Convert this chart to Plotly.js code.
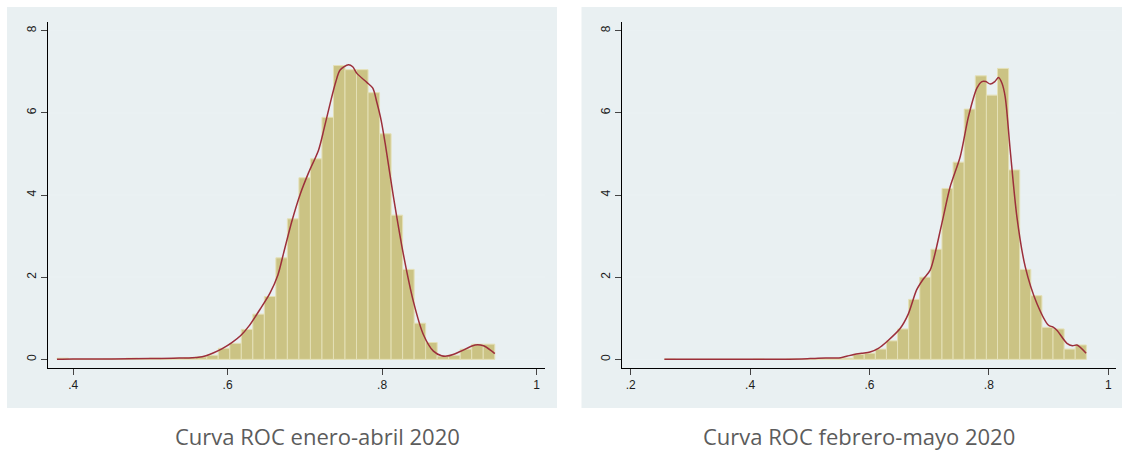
<!DOCTYPE html>
<html>
<head>
<meta charset="utf-8">
<script src="https://cdn.plot.ly/plotly-3.0.1.min.js"></script>
<style>
  html, body { margin: 0; padding: 0; background: #ffffff; }
  #chart { width: 1122px; height: 451px; }
</style>
</head>
<body>
<div id="chart"></div>
<script>
// ---------- DATA ----------
// Panel titles
const panelTitles = ["Curva ROC enero-abril 2020", "Curva ROC febrero-mayo 2020"];

// Left panel histogram (density), 38 bins
const leftBinStart = 0.379;
const leftBinWidth = 0.01492;
const leftDensity = [
  0.03, 0.00, 0.00, 0.00, 0.01, 0.00, 0.03, 0.01, 0.03, 0.02,
  0.03, 0.04, 0.06, 0.10, 0.27, 0.39, 0.73, 1.10, 1.53, 2.47,
  3.42, 4.42, 4.88, 5.89, 7.15, 7.05, 7.05, 6.49, 5.49, 3.51,
  2.19, 0.88, 0.41, 0.08, 0.10, 0.25, 0.37, 0.37
];
// Left panel kernel density curve
const leftKdeX = [0.379, 0.40, 0.45, 0.50, 0.53, 0.550, 0.562, 0.572, 0.582, 0.593, 0.605, 0.617, 0.628, 0.642, 0.655, 0.665, 0.6724, 0.683, 0.694, 0.705, 0.7177, 0.725, 0.7328, 0.740, 0.7457, 0.7565, 0.762, 0.7674, 0.7803, 0.788, 0.7933, 0.799, 0.804, 0.8148, 0.8277, 0.8407, 0.8536, 0.8665, 0.877, 0.8839, 0.892, 0.9011, 0.9205, 0.9313, 0.9421, 0.946];
const leftKdeY = [0.005, 0.01, 0.01, 0.02, 0.03, 0.035, 0.05, 0.09, 0.16, 0.26, 0.40, 0.58, 0.82, 1.22, 1.62, 2.05, 2.58, 3.35, 4.02, 4.55, 5.09, 5.62, 6.23, 6.75, 7.04, 7.17, 7.12, 6.96, 6.74, 6.60, 6.25, 5.80, 5.26, 3.95, 2.55, 1.40, 0.60, 0.20, 0.09, 0.08, 0.12, 0.19, 0.35, 0.33, 0.20, 0.14];

// Right panel histogram (density), 38 bins
const rightBinStart = 0.2565;
const rightBinWidth = 0.0186;
const rightDensity = [
  0.01, 0.00, 0.00, 0.00, 0.00, 0.00, 0.00, 0.00, 0.01, 0.00,
  0.00, 0.01, 0.00, 0.00, 0.02, 0.02, 0.03, 0.12, 0.15, 0.25,
  0.45, 0.74, 1.46, 2.00, 2.68, 4.16, 4.80, 6.09, 6.90, 6.43,
  7.08, 4.61, 2.19, 1.55, 0.78, 0.74, 0.25, 0.35
];
// Right panel kernel density curve
const rightKdeX = [0.2565, 0.35, 0.45, 0.4866, 0.514, 0.552, 0.563, 0.574, 0.587, 0.601, 0.615, 0.629, 0.6514, 0.665, 0.679, 0.690, 0.7017, 0.7213, 0.7352, 0.752, 0.7659, 0.780, 0.7884, 0.795, 0.8023, 0.810, 0.8162, 0.822, 0.8274, 0.8358, 0.847, 0.861, 0.8805, 0.900, 0.907, 0.914, 0.9308, 0.940, 0.9476, 0.963];
const rightKdeY = [0.005, 0.005, 0.005, 0.01, 0.03, 0.04, 0.08, 0.12, 0.15, 0.18, 0.27, 0.43, 0.75, 1.10, 1.69, 1.95, 2.17, 3.31, 4.20, 4.93, 5.91, 6.60, 6.76, 6.76, 6.70, 6.76, 6.86, 6.72, 6.39, 5.09, 3.47, 2.25, 1.36, 0.83, 0.79, 0.71, 0.39, 0.33, 0.35, 0.15];

// Tick labels
const yTickVals = [0, 2, 4, 6, 8];
const yTickText = ["0", "2", "4", "6", "8"];
const leftXTickVals = [0.4, 0.6, 0.8, 1.0];
const leftXTickText = [".4", ".6", ".8", "1"];
const rightXTickVals = [0.2, 0.4, 0.6, 0.8, 1.0];
const rightXTickText = [".2", ".4", ".6", ".8", "1"];

// ---------- BUILD ----------
function centers(start, width, n) {
  const c = [];
  for (let i = 0; i < n; i++) c.push(start + (i + 0.5) * width);
  return c;
}

const W = 1122, H = 451;
const px = v => v / W;
const py = v => 1 - v / H;

const barColor = '#cbc384';
const barLine = '#e4e0b6';
const kdeColor = '#9c2f3b';
const gridColor = '#eaf1f3';
const boxColor = '#e9f0f2';

const traces = [
  {
    type: 'bar', xaxis: 'x', yaxis: 'y',
    x: centers(leftBinStart, leftBinWidth, leftDensity.length),
    y: leftDensity, width: leftBinWidth,
    marker: { color: barColor, line: { color: barLine, width: 1 } },
    hoverinfo: 'skip'
  },
  {
    type: 'scatter', mode: 'lines', xaxis: 'x', yaxis: 'y',
    x: leftKdeX, y: leftKdeY,
    line: { color: kdeColor, width: 1.5, shape: 'spline', smoothing: 0.8 },
    hoverinfo: 'skip'
  },
  {
    type: 'bar', xaxis: 'x2', yaxis: 'y2',
    x: centers(rightBinStart, rightBinWidth, rightDensity.length),
    y: rightDensity, width: rightBinWidth,
    marker: { color: barColor, line: { color: barLine, width: 1 } },
    hoverinfo: 'skip'
  },
  {
    type: 'scatter', mode: 'lines', xaxis: 'x2', yaxis: 'y2',
    x: rightKdeX, y: rightKdeY,
    line: { color: kdeColor, width: 1.5, shape: 'spline', smoothing: 0.8 },
    hoverinfo: 'skip'
  }
];

const tickFont = { family: 'Liberation Sans, Arial, sans-serif', size: 12, color: '#1c1c1c' };

function xAxis(domain, range, vals, text, anchor) {
  return {
    domain: domain, range: range, anchor: anchor,
    tickmode: 'array', tickvals: vals, ticktext: text,
    ticks: 'outside', ticklen: 6, tickwidth: 1, tickcolor: '#444',
    showline: true, linecolor: '#000', linewidth: 1,
    showgrid: false, zeroline: false, tickfont: tickFont, fixedrange: true
  };
}
function yAxis(domain, anchor) {
  return {
    domain: domain, range: [-0.21, 8.21], anchor: anchor,
    tickmode: 'array', tickvals: yTickVals, ticktext: yTickText,
    ticks: 'outside', ticklen: 6, tickwidth: 1, tickcolor: '#444',
    tickangle: -90,
    showline: true, linecolor: '#000', linewidth: 1,
    showgrid: true, gridcolor: gridColor, gridwidth: 1.5,
    zeroline: false, tickfont: tickFont, fixedrange: true
  };
}

const yDom = [py(368), py(22)];

const layout = {
  width: W, height: H,
  margin: { l: 0, r: 0, t: 0, b: 0 },
  paper_bgcolor: '#ffffff',
  plot_bgcolor: '#ffffff',
  showlegend: false,
  bargap: 0,
  xaxis: xAxis([px(47.7), px(545)], [0.367, 1.011], leftXTickVals, leftXTickText, 'y'),
  yaxis: yAxis(yDom, 'x'),
  xaxis2: xAxis([px(621.7), px(1116)], [0.185, 1.013], rightXTickVals, rightXTickText, 'y2'),
  yaxis2: yAxis(yDom, 'x2'),
  shapes: [
    { type: 'rect', xref: 'paper', yref: 'paper', layer: 'below',
      x0: px(7), x1: px(557), y0: py(408), y1: py(7),
      fillcolor: boxColor, line: { width: 0 } },
    { type: 'rect', xref: 'paper', yref: 'paper', layer: 'below',
      x0: px(581.5), x1: px(1122), y0: py(408), y1: py(7),
      fillcolor: boxColor, line: { width: 0 } }
  ],
  annotations: [
    { xref: 'paper', yref: 'paper', x: px(317.5), y: py(436), xanchor: 'center', yanchor: 'middle',
      text: panelTitles[0], showarrow: false, borderpad: 0,
      font: { family: 'Open Sans, sans-serif', size: 22, color: '#5c5c5c' } },
    { xref: 'paper', yref: 'paper', x: px(858.5), y: py(436), xanchor: 'center', yanchor: 'middle',
      text: panelTitles[1], showarrow: false, borderpad: 0,
      font: { family: 'Open Sans, sans-serif', size: 22, color: '#5c5c5c' } }
  ]
};

Plotly.newPlot('chart', traces, layout, { staticPlot: true, displayModeBar: false });
</script>
</body>
</html>
